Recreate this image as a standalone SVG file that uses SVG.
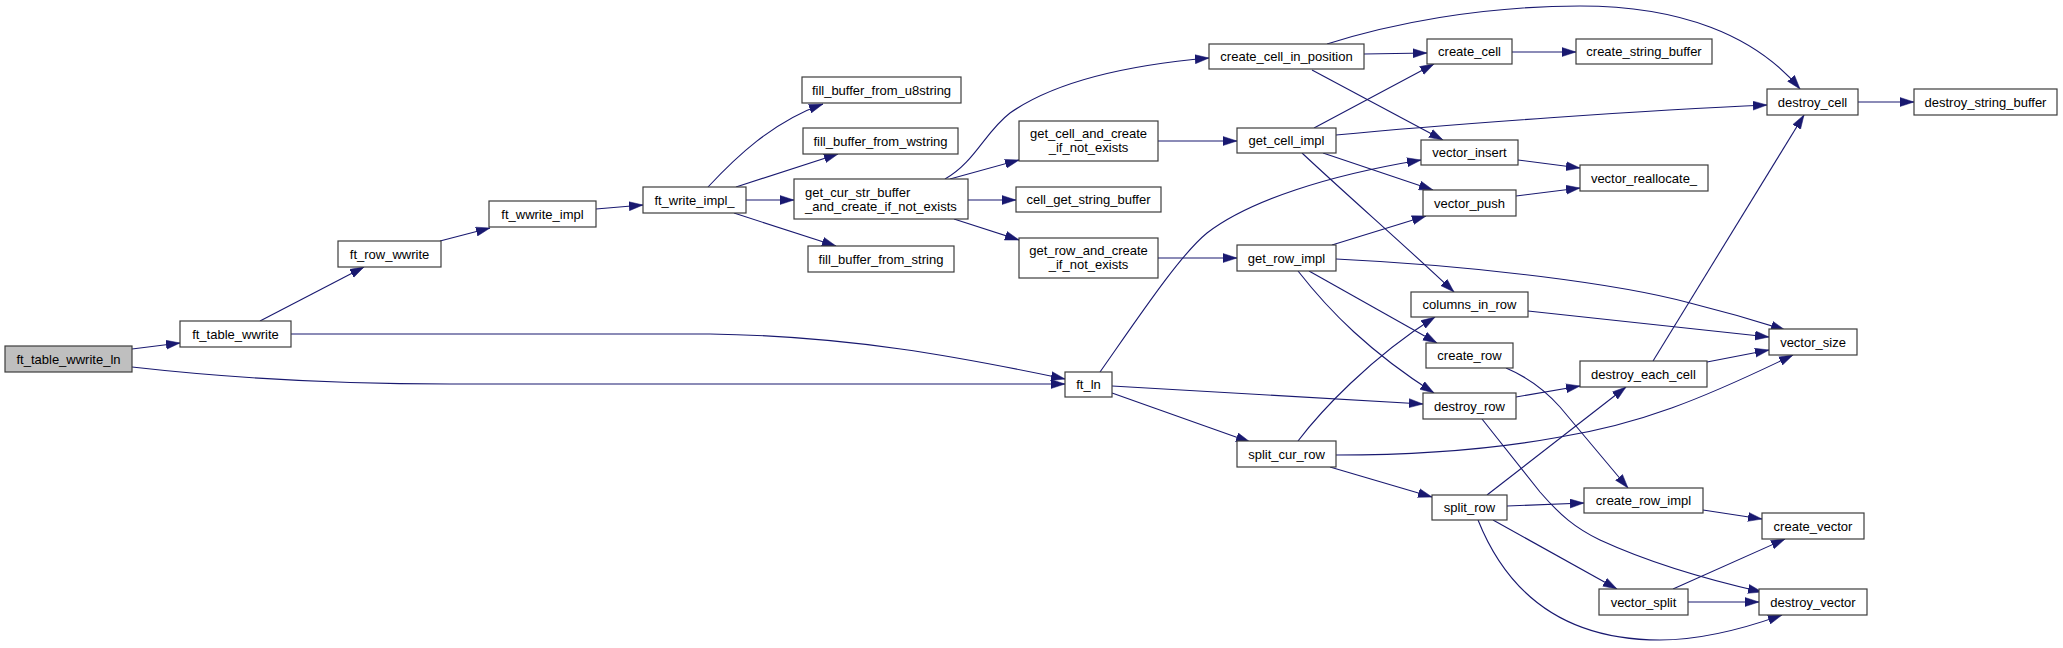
<svg xmlns="http://www.w3.org/2000/svg" width="2063" height="648" viewBox="0 0 2063 648">
<style>
.n rect{fill:#ffffff;stroke:#3c3c3c;stroke-width:1.2}
.n text{font-family:"Liberation Sans",Arial,Helvetica,sans-serif;font-size:13px;fill:#000;text-anchor:middle}
.n text.l{text-anchor:start}
.e path{fill:none;stroke:#191970;stroke-width:1.1;marker-end:url(#a)}
</style>
<defs>
<marker id="a" markerWidth="15" markerHeight="10" refX="14" refY="5" orient="auto" markerUnits="userSpaceOnUse">
<path d="M0,0.5 L14,5 L0,9.5 z" fill="#191970" stroke="#191970" stroke-width="0.5"/>
</marker>
</defs>
<rect width="2063" height="648" fill="#ffffff"/>
<g id="connectors" class="e">
<path d="M132,349 L180,343"/>
<path d="M132,367 C220,377 330,384 450,384 L1065,384"/>
<path d="M260,321 L364,267"/>
<path d="M291,334 L710,334 C850,336 960,357 1065,379"/>
<path d="M440,241 L490,228"/>
<path d="M596,209 L643,205"/>
<path d="M708,187 C735,158 772,122 823,104"/>
<path d="M736,187 L838,154"/>
<path d="M746,200 L794,200"/>
<path d="M734,213 L836,246"/>
<path d="M945,179 C975,162 985,132 1010,113 C1060,78 1140,64 1209,58"/>
<path d="M950,179 L1019,160"/>
<path d="M968,200 L1016,200"/>
<path d="M954,219 L1019,240"/>
<path d="M1158,141 L1237,141"/>
<path d="M1158,258 L1237,258"/>
<path d="M1364,54 L1427,53"/>
<path d="M1327,44 C1390,24 1480,6 1580,6 C1680,6 1755,35 1800,89"/>
<path d="M1512,52 L1576,52"/>
<path d="M1312,70 L1443,140"/>
<path d="M1314,128 L1434,64"/>
<path d="M1336,135 C1450,124 1650,110 1767,105"/>
<path d="M1323,153 L1433,190"/>
<path d="M1302,153 C1350,198 1410,250 1454,292"/>
<path d="M1332,245 L1426,216"/>
<path d="M1336,259 C1480,266 1620,284 1690,303 C1730,313 1760,322 1785,330"/>
<path d="M1309,271 L1437,343"/>
<path d="M1298,271 C1330,312 1370,352 1434,393"/>
<path d="M1100,372 C1140,315 1180,255 1207,233 C1250,200 1330,175 1421,160"/>
<path d="M1112,386 L1423,404"/>
<path d="M1112,393 L1250,442"/>
<path d="M1298,441 C1320,412 1370,358 1435,317"/>
<path d="M1336,455 C1420,455 1500,448 1560,437 C1640,424 1700,400 1793,355"/>
<path d="M1330,467 L1432,497"/>
<path d="M1528,311 L1769,337"/>
<path d="M1506,368 C1525,376 1545,390 1560,407 L1628,488"/>
<path d="M1516,397 L1580,386"/>
<path d="M1482,419 L1540,492 C1560,515 1575,528 1600,540 C1650,563 1700,578 1762,592"/>
<path d="M1487,495 L1626,387"/>
<path d="M1507,506 L1584,503"/>
<path d="M1493,520 L1617,589"/>
<path d="M1478,520 C1510,600 1570,640 1660,640 C1700,640 1740,630 1782,615"/>
<path d="M1703,510 L1762,519"/>
<path d="M1673,589 L1785,539"/>
<path d="M1688,602 L1759,602"/>
<path d="M1653,361 L1804,115"/>
<path d="M1707,362 L1769,350"/>
<path d="M1858,102 L1914,102"/>
<path d="M1518,160 L1580,168"/>
<path d="M1516,196 L1580,188"/>
</g>
<g id="ft_table_wwrite_ln" class="n"><rect x="5" y="346" width="127" height="26" style="fill:#bfbfbf"/><text x="68.5" y="363.5">ft_table_wwrite_ln</text></g>
<g id="ft_table_wwrite" class="n"><rect x="180" y="321" width="111" height="26"/><text x="235.5" y="338.5">ft_table_wwrite</text></g>
<g id="ft_row_wwrite" class="n"><rect x="338" y="241" width="103" height="26"/><text x="389.5" y="258.5">ft_row_wwrite</text></g>
<g id="ft_wwrite_impl" class="n"><rect x="489" y="201" width="107" height="26"/><text x="542.5" y="218.5">ft_wwrite_impl</text></g>
<g id="ft_write_impl_" class="n"><rect x="643" y="187" width="103" height="26"/><text x="694.5" y="204.5">ft_write_impl_</text></g>
<g id="fill_buffer_from_u8string" class="n"><rect x="802" y="77" width="159" height="26"/><text x="881.5" y="94.5">fill_buffer_from_u8string</text></g>
<g id="fill_buffer_from_wstring" class="n"><rect x="803" y="128" width="155" height="26"/><text x="880.5" y="145.5">fill_buffer_from_wstring</text></g>
<g id="get_cur_str_buffer_and_create_if_not_exists" class="n"><rect x="794" y="179" width="174" height="40"/><text class="l" x="805" y="196.5">get_cur_str_buffer</text><text class="l" x="805" y="210.5">_and_create_if_not_exists</text></g>
<g id="fill_buffer_from_string" class="n"><rect x="808" y="246" width="146" height="26"/><text x="881" y="263.5">fill_buffer_from_string</text></g>
<g id="create_cell_in_position" class="n"><rect x="1209" y="44" width="155" height="25"/><text x="1286.5" y="61">create_cell_in_position</text></g>
<g id="create_cell" class="n"><rect x="1427" y="39" width="85" height="25"/><text x="1469.5" y="56">create_cell</text></g>
<g id="get_cell_and_create_if_not_exists" class="n"><rect x="1019" y="121" width="139" height="40"/><text x="1088.5" y="137.5">get_cell_and_create</text><text x="1088.5" y="151.5">_if_not_exists</text></g>
<g id="get_cell_impl" class="n"><rect x="1237" y="128" width="99" height="25"/><text x="1286.5" y="145">get_cell_impl</text></g>
<g id="vector_insert" class="n"><rect x="1421" y="140" width="97" height="25"/><text x="1469.5" y="157">vector_insert</text></g>
<g id="cell_get_string_buffer" class="n"><rect x="1016" y="187" width="145" height="25"/><text x="1088.5" y="204">cell_get_string_buffer</text></g>
<g id="vector_push" class="n"><rect x="1423" y="190" width="93" height="26"/><text x="1469.5" y="207.5">vector_push</text></g>
<g id="get_row_and_create_if_not_exists" class="n"><rect x="1019" y="238" width="139" height="40"/><text x="1088.5" y="254.5">get_row_and_create</text><text x="1088.5" y="268.5">_if_not_exists</text></g>
<g id="get_row_impl" class="n"><rect x="1237" y="245" width="99" height="26"/><text x="1286.5" y="262.5">get_row_impl</text></g>
<g id="create_string_buffer" class="n"><rect x="1576" y="39" width="136" height="25"/><text x="1644" y="56">create_string_buffer</text></g>
<g id="destroy_cell" class="n"><rect x="1767" y="89" width="91" height="26"/><text x="1812.5" y="106.5">destroy_cell</text></g>
<g id="destroy_string_buffer" class="n"><rect x="1914" y="89" width="143" height="26"/><text x="1985.5" y="106.5">destroy_string_buffer</text></g>
<g id="vector_reallocate_" class="n"><rect x="1580" y="165" width="128" height="26"/><text x="1644" y="182.5">vector_reallocate_</text></g>
<g id="columns_in_row" class="n"><rect x="1411" y="292" width="117" height="25"/><text x="1469.5" y="309">columns_in_row</text></g>
<g id="create_row" class="n"><rect x="1426" y="343" width="87" height="25"/><text x="1469.5" y="360">create_row</text></g>
<g id="ft_ln" class="n"><rect x="1065" y="372" width="47" height="25"/><text x="1088.5" y="389">ft_ln</text></g>
<g id="destroy_row" class="n"><rect x="1423" y="393" width="93" height="26"/><text x="1469.5" y="410.5">destroy_row</text></g>
<g id="split_cur_row" class="n"><rect x="1237" y="441" width="99" height="26"/><text x="1286.5" y="458.5">split_cur_row</text></g>
<g id="split_row" class="n"><rect x="1432" y="495" width="75" height="25"/><text x="1469.5" y="512">split_row</text></g>
<g id="vector_size" class="n"><rect x="1769" y="329" width="88" height="26"/><text x="1813" y="346.5">vector_size</text></g>
<g id="destroy_each_cell" class="n"><rect x="1580" y="361" width="127" height="26"/><text x="1643.5" y="378.5">destroy_each_cell</text></g>
<g id="create_row_impl" class="n"><rect x="1584" y="488" width="119" height="25"/><text x="1643.5" y="505">create_row_impl</text></g>
<g id="create_vector" class="n"><rect x="1762" y="513" width="102" height="26"/><text x="1813" y="530.5">create_vector</text></g>
<g id="vector_split" class="n"><rect x="1599" y="589" width="89" height="26"/><text x="1643.5" y="606.5">vector_split</text></g>
<g id="destroy_vector" class="n"><rect x="1759" y="589" width="108" height="26"/><text x="1813" y="606.5">destroy_vector</text></g>
</svg>
